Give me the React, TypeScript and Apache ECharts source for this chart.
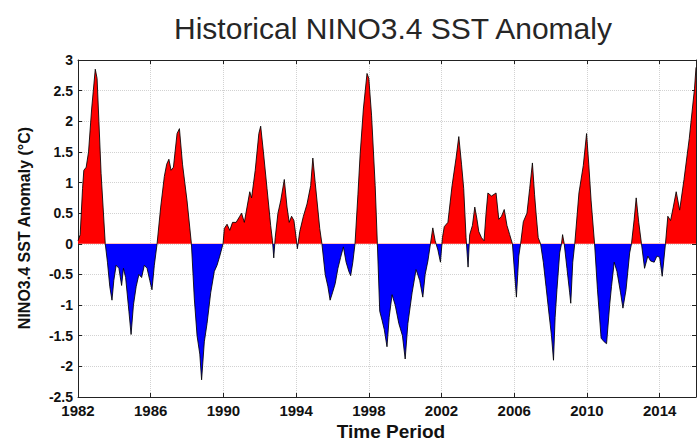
import React, { useEffect, useRef } from "react";
import * as echarts from "echarts";

// Time (decimal year) and NINO3.4 SST anomaly (°C)
const times: number[] = [
  1982.0, 1982.12, 1982.25, 1982.32, 1982.45, 1982.58, 1982.75, 1982.95, 1983.05, 1983.15,
  1983.27, 1983.38, 1983.5, 1983.62, 1983.75, 1983.87, 1983.97, 1984.1, 1984.25, 1984.4,
  1984.5, 1984.62, 1984.8, 1984.92, 1985.05, 1985.2, 1985.35, 1985.5, 1985.65, 1985.8,
  1985.95, 1986.07, 1986.2, 1986.35, 1986.55, 1986.75, 1986.88, 1987.0, 1987.12, 1987.25,
  1987.45, 1987.58, 1987.75, 1988.0, 1988.24, 1988.4, 1988.55, 1988.7, 1988.8, 1988.95,
  1989.1, 1989.3, 1989.5, 1989.65, 1989.8, 1989.98, 1990.05, 1990.2, 1990.35, 1990.5,
  1990.7, 1990.9, 1991.0, 1991.15, 1991.3, 1991.45, 1991.55, 1991.75, 1991.95, 1992.05,
  1992.2, 1992.4, 1992.6, 1992.7, 1992.77, 1992.85, 1993.0, 1993.15, 1993.35, 1993.5,
  1993.62, 1993.75, 1993.88, 1994.0, 1994.07, 1994.2, 1994.4, 1994.6, 1994.8, 1994.92,
  1995.05, 1995.15, 1995.3, 1995.42, 1995.6, 1995.75, 1995.87, 1996.0, 1996.15, 1996.3,
  1996.45, 1996.6, 1996.75, 1996.9, 1997.0, 1997.12, 1997.24, 1997.4, 1997.52, 1997.7,
  1997.9, 1998.0, 1998.15, 1998.35, 1998.47, 1998.6, 1998.73, 1998.85, 1999.0, 1999.12,
  1999.28, 1999.45, 1999.65, 1999.85, 2000.0, 2000.15, 2000.38, 2000.6, 2000.8, 2000.97,
  2001.1, 2001.25, 2001.39, 2001.52, 2001.65, 2001.8, 2001.94, 2002.05, 2002.15, 2002.35,
  2002.58, 2002.8, 2002.95, 2003.1, 2003.22, 2003.35, 2003.46, 2003.55, 2003.7, 2003.83,
  2003.95, 2004.05, 2004.2, 2004.34, 2004.45, 2004.55, 2004.75, 2005.0, 2005.15, 2005.3,
  2005.45, 2005.6, 2005.75, 2005.9, 2006.12, 2006.25, 2006.35, 2006.5, 2006.7, 2006.85,
  2007.0, 2007.12, 2007.2, 2007.32, 2007.45, 2007.6, 2007.75, 2007.92, 2008.05, 2008.16,
  2008.25, 2008.35, 2008.5, 2008.6, 2008.66, 2008.75, 2008.9, 2009.05, 2009.11, 2009.22,
  2009.33, 2009.56, 2009.8, 2009.98, 2010.1, 2010.23, 2010.42, 2010.58, 2010.78, 2010.95,
  2011.08, 2011.25, 2011.35, 2011.5, 2011.65, 2011.85, 2011.98, 2012.15, 2012.35, 2012.45,
  2012.6, 2012.71, 2012.85, 2013.0, 2013.17, 2013.35, 2013.5, 2013.7, 2013.85, 2014.0,
  2014.14, 2014.32, 2014.45, 2014.6, 2014.75, 2014.91, 2015.1, 2015.34, 2015.63, 2015.92,
  2016.0,
];

const anomalies: number[] = [
  0.05, 0.15, 0.9, 1.2, 1.25, 1.5, 2.2, 2.85, 2.7, 2.0,
  1.15, 0.6, 0.0, -0.3, -0.7, -0.92, -0.6, -0.35, -0.4, -0.68,
  -0.4, -0.55, -1.1, -1.48, -1.0, -0.7, -0.5, -0.55, -0.35, -0.4,
  -0.6, -0.75, -0.35, 0.0, 0.6, 1.1, 1.3, 1.38, 1.2, 1.25,
  1.8, 1.88, 1.3, 0.7, 0.0, -0.9, -1.5, -1.8, -2.22, -1.6,
  -1.3, -0.8, -0.45, -0.35, -0.2, 0.0, 0.25, 0.32, 0.22, 0.35,
  0.35, 0.45, 0.5, 0.35, 0.6, 0.85, 0.75, 1.2, 1.8, 1.92,
  1.5, 0.9, 0.3, 0.05, -0.23, 0.1, 0.5, 0.7, 1.05, 0.6,
  0.35, 0.45, 0.38, 0.1, -0.08, 0.2, 0.45, 0.65, 0.95, 1.4,
  1.0, 0.7, 0.25, 0.0, -0.5, -0.7, -0.92, -0.8, -0.65, -0.4,
  -0.22, -0.05, -0.3, -0.45, -0.52, -0.3, 0.0, 0.8, 1.45, 2.2,
  2.78, 2.7, 2.1, 0.95, 0.0, -1.1, -1.25, -1.4, -1.68, -1.2,
  -0.83, -1.0, -1.3, -1.5, -1.88, -1.3, -0.8, -0.42, -0.6, -0.87,
  -0.5, -0.28, 0.0, 0.26, 0.05, -0.1, -0.3, 0.1, 0.28, 0.35,
  0.95, 1.4, 1.75, 1.3, 0.9, 0.1, -0.38, 0.15, 0.3, 0.6,
  0.4, 0.2, 0.1, 0.05, 0.5, 0.83, 0.78, 0.83, 0.4, 0.45,
  0.56, 0.3, 0.15, 0.0, -0.87, -0.2, 0.0, 0.36, 0.5, 0.9,
  1.32, 0.8, 0.5, 0.1, 0.0, -0.3, -0.7, -1.16, -1.5, -1.9,
  -1.2, -0.75, -0.15, 0.0, 0.15, 0.0, -0.4, -0.8, -0.97, -0.3,
  0.0, 0.83, 1.28, 1.8, 1.3, 0.7, 0.0, -0.75, -1.54, -1.6,
  -1.63, -1.0, -0.7, -0.3, -0.45, -0.8, -1.05, -0.75, -0.15, 0.0,
  0.4, 0.75, 0.35, 0.0, -0.4, -0.2, -0.28, -0.3, -0.2, -0.22,
  -0.53, 0.0, 0.45, 0.38, 0.6, 0.85, 0.55, 1.05, 1.72, 2.54,
  2.88,
];

const startYear = 1982;
const endYear = 2016;
const yearStep = 4;
const yMin = -2.5;
const yMax = 3;
const yStep = 0.5;

const titleText = "Historical NINO3.4 SST Anomaly";
const xTitle = "Time Period";
const yTitle = "NINO3.4 SST Anomaly (°C)";

const FONT = "'Liberation Sans', Arial, Helvetica, sans-serif";

export default function App() {
  const ref = useRef<HTMLDivElement>(null);

  useEffect(() => {
    if (!ref.current) return;
    const chart = echarts.init(ref.current, undefined, { renderer: "svg" });

    const data = times.map((t, i) => [t - startYear, anomalies[i]]);
    const span = endYear - startYear;

    const axisLineStyle = { color: "#222", width: 1 };
    const gridLine = { show: true, lineStyle: { color: "#d2d2d2", type: "dotted" as const, width: 1 } };

    chart.setOption({
      animation: false,
      backgroundColor: "#fff",
      title: {
        text: titleText,
        left: 388,
        top: 8,
        textAlign: "center",
        textStyle: { fontFamily: FONT, fontSize: 30, fontWeight: "normal", color: "#262626" },
      },
      grid: { left: 78, right: 4, top: 60, bottom: 44, show: false },
      visualMap: {
        show: false,
        type: "piecewise",
        dimension: 1,
        seriesIndex: 0,
        pieces: [
          { gte: yMin, lt: 0, color: "#0000ff" },
          { gte: 0, lte: yMax, color: "#ff0000" },
        ],
        outOfRange: { color: "#ff0000" },
      },
      xAxis: [
        {
          type: "value",
          min: 0,
          max: span,
          interval: yearStep,
          position: "bottom",
          axisLine: { show: true, onZero: false, lineStyle: axisLineStyle },
          axisTick: { show: true, inside: true, length: 4, lineStyle: axisLineStyle },
          axisLabel: {
            show: true,
            margin: 6,
            showMaxLabel: false,
            formatter: (v: number) => String(startYear + v),
            fontFamily: FONT,
            fontSize: 15,
            lineHeight: 15,
            fontWeight: "bold",
            color: "#111",
          },
          splitLine: gridLine,
        },
        {
          type: "value",
          min: 0,
          max: span,
          interval: yearStep,
          position: "top",
          axisLine: { show: true, onZero: false, lineStyle: axisLineStyle },
          axisTick: { show: true, inside: true, length: 4, lineStyle: axisLineStyle },
          axisLabel: { show: false },
          splitLine: { show: false },
        },
      ],
      yAxis: [
        {
          type: "value",
          min: yMin,
          max: yMax,
          interval: yStep,
          position: "left",
          axisLine: { show: true, onZero: false, lineStyle: axisLineStyle },
          axisTick: { show: true, inside: true, length: 4, lineStyle: axisLineStyle },
          axisLabel: {
            show: true,
            margin: 5,
            fontFamily: FONT,
            fontSize: 14,
            lineHeight: 11,
            fontWeight: "bold",
            color: "#111",
          },
          splitLine: gridLine,
        },
        {
          type: "value",
          min: yMin,
          max: yMax,
          interval: yStep,
          position: "right",
          axisLine: { show: true, onZero: false, lineStyle: axisLineStyle },
          axisTick: { show: true, inside: true, length: 4, lineStyle: axisLineStyle },
          axisLabel: { show: false },
          splitLine: { show: false },
        },
      ],
      series: [
        {
          type: "line",
          xAxisIndex: 0,
          yAxisIndex: 0,
          data,
          showSymbol: false,
          symbol: "none",
          smooth: false,
          lineStyle: { color: "#000", width: 1, opacity: 0.85 },
          areaStyle: { opacity: 1 },
          z: 3,
        },
      ],
      graphic: [
        {
          type: "text",
          x: 391,
          y: 431,
          style: {
            text: xTitle,
            fontFamily: FONT,
            fontSize: 19,
            fontWeight: "bold",
            fill: "#111",
            textAlign: "center",
            textVerticalAlign: "middle",
          },
        },
        {
          type: "text",
          x: 24,
          y: 228,
          rotation: Math.PI / 2,
          style: {
            text: yTitle,
            fontFamily: FONT,
            fontSize: 16,
            fontWeight: "bold",
            fill: "#111",
            textAlign: "center",
            textVerticalAlign: "middle",
          },
        },
      ],
    });

    return () => chart.dispose();
  }, []);

  return (
    <div
      ref={ref}
      style={{ position: "fixed", left: 0, top: 0, width: 700, height: 441, background: "#fff" }}
    />
  );
}
